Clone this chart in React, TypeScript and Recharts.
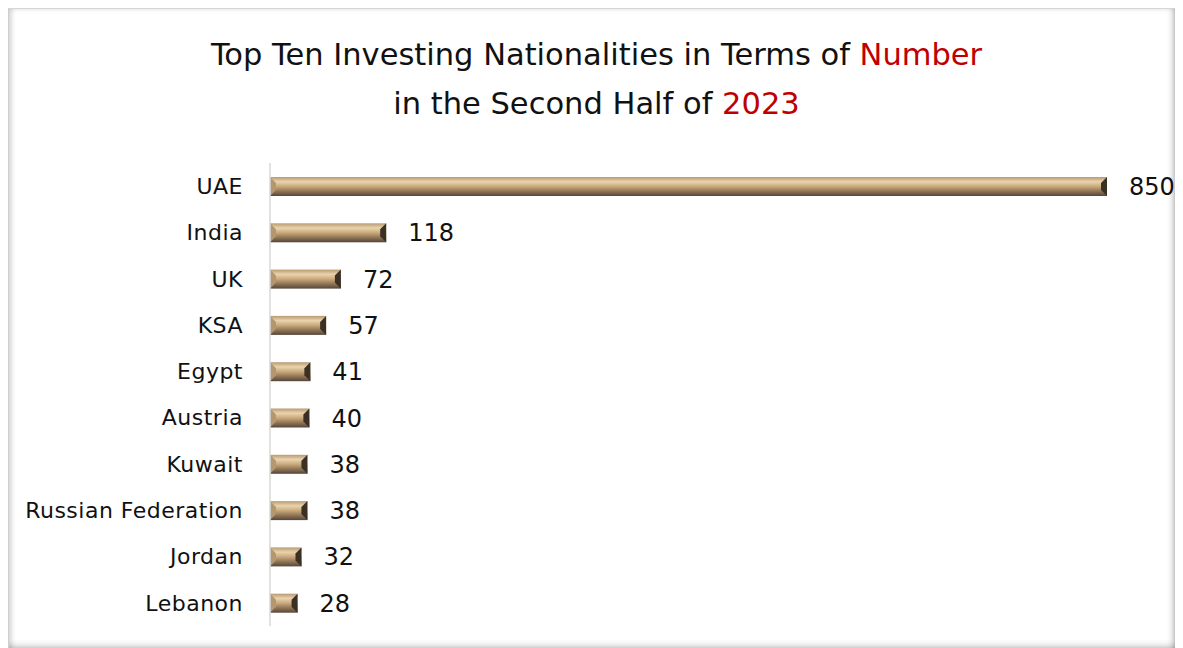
import React from 'react'
import { Bar, BarChart, LabelList, XAxis, YAxis } from 'recharts'

const countries = [
  'UAE',
  'India',
  'UK',
  'KSA',
  'Egypt',
  'Austria',
  'Kuwait',
  'Russian Federation',
  'Jordan',
  'Lebanon',
]
const investors = [850, 118, 72, 57, 41, 40, 38, 38, 32, 28]

const data = countries.map((name, i) => ({ name, value: investors[i] }))

const FONT = '"DejaVu Sans", Verdana, sans-serif'

// bevelled bronze bar, drawn from the rect recharts computes
const BevelBar = (props: any) => {
  const { x, y, width, height } = props
  if (!width || width <= 0) return null
  const b = Math.min(6, height / 3, width / 2)
  return (
    <g>
      <rect x={x} y={y} width={width} height={height} fill="url(#bronze)" />
      <polygon
        points={`${x},${y} ${x + b},${y + b} ${x + b},${y + height - b} ${x},${y + height}`}
        fill="#b39672"
      />
      <polygon
        points={`${x + width},${y} ${x + width - b},${y + b} ${x + width - b},${y + height - b} ${x + width},${y + height}`}
        fill="#3b3024"
      />
    </g>
  )
}

export default function App() {
  return (
    <div
      style={{
        position: 'relative',
        width: 1175,
        height: 640,
        boxSizing: 'border-box',
        borderTop: '1px solid #d6d6d6',
        borderLeft: '1px solid #cfcfcf',
        background: '#fff',
        boxShadow:
          'inset -12px 0 10px -6px rgba(0,0,0,0.7), inset 6px 0 4px -3px rgba(0,0,0,0.15), inset 0 -8px 6px -5px rgba(0,0,0,0.15)',
        fontFamily: FONT,
      }}
    >
      <div
        style={{
          position: 'absolute',
          top: 21,
          left: 0,
          width: 1175,
          textAlign: 'center',
          fontSize: 30.5,
          lineHeight: '49px',
          color: '#111',
        }}
      >
        <div>
          Top Ten Investing Nationalities in Terms of{' '}
          <span style={{ color: '#c00000' }}>Number</span>
        </div>
        <div>
          in the Second Half of <span style={{ color: '#c00000' }}>2023</span>
        </div>
      </div>
      <BarChart
        width={1175}
        height={640}
        data={data}
        layout="vertical"
        margin={{ top: 154, right: 77, bottom: 23, left: 0 }}
        barSize={19}
      >
        <defs>
          <linearGradient id="bronze" x1="0" y1="0" x2="0" y2="1">
            <stop offset="0%" stopColor="#b89a72" />
            <stop offset="25%" stopColor="#ead4ad" />
            <stop offset="50%" stopColor="#c9a87b" />
            <stop offset="75%" stopColor="#8f7555" />
            <stop offset="100%" stopColor="#55453a" />
          </linearGradient>
        </defs>
        <XAxis type="number" domain={[0, 850]} hide />
        <YAxis
          type="category"
          dataKey="name"
          width={261}
          tickLine={false}
          tickSize={0}
          tickMargin={27}
          axisLine={{ stroke: '#d9d9d9', strokeWidth: 1.5 }}
          tick={{ fill: '#111', fontSize: 22, fontFamily: FONT, letterSpacing: 0.5 }}
          interval={0}
        />
        <Bar dataKey="value" shape={BevelBar} isAnimationActive={false}>
          <LabelList
            dataKey="value"
            position="right"
            offset={22}
            fill="#111"
            fontSize={24}
            fontFamily={FONT}
          />
        </Bar>
      </BarChart>
    </div>
  )
}
